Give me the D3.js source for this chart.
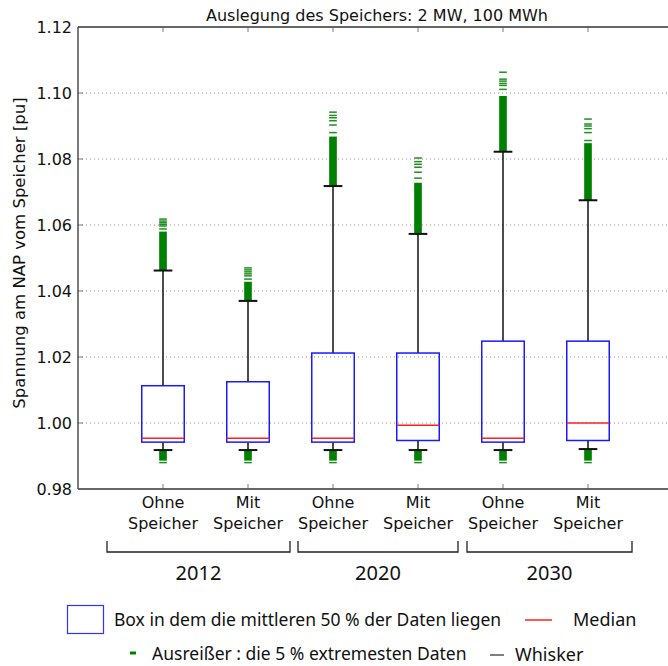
<!DOCTYPE html>
<html lang="de">
<head>
  <meta charset="UTF-8">
  <title>Auslegung des Speichers</title>
  <script src="https://cdn.jsdelivr.net/npm/d3@7"></script>
  <style>
    body { margin: 0; background: #fff; }
    svg { display: block; }
    .tick text { font-family: "DejaVu Sans", sans-serif; }
    .legend text { font-family: "Noto Sans", sans-serif; fill: #111; }
  </style>
</head>
<body>
  <div id="chart"></div>
  <script>
    // data
    const groups = ["2012", "2020", "2030"];
    const variants = ["Ohne Speicher", "Mit Speicher"];
    const q1 = [0.9942, 0.9942, 0.9942, 0.9947, 0.9942, 0.9947];
    const median = [0.9954, 0.9954, 0.9954, 0.9993, 0.9954, 1.0000];
    const q3 = [1.0113, 1.0125, 1.0212, 1.0212, 1.0248, 1.0248];
    const whiskerLow = [0.9918, 0.9918, 0.9918, 0.9918, 0.9918, 0.9921];
    const whiskerHigh = [1.0462, 1.0370, 1.0718, 1.0573, 1.0822, 1.0675];
    // dense outliers merge into a solid bar, top end of that bar
    const denseHighTop = [1.0580, 1.0428, 1.0868, 1.0728, 1.0991, 1.0848];
    const denseLowBottom = [0.9886, 0.9886, 0.9886, 0.9886, 0.9886, 0.9886];
    const sparseHigh = [
      [1.0588, 1.0597, 1.0602, 1.0607, 1.0612, 1.0618],
      [1.0436, 1.0446, 1.0452, 1.0458, 1.0464, 1.0470],
      [1.0880, 1.0903, 1.0916, 1.0925, 1.0932, 1.0942],
      [1.0742, 1.0760, 1.0775, 1.0784, 1.0792, 1.0803],
      [1.1011, 1.1023, 1.1029, 1.1036, 1.1042, 1.1063],
      [1.0856, 1.0880, 1.0892, 1.0900, 1.0906, 1.0921]
    ];
    const sparseLow = [0.9880, 0.9880, 0.9880, 0.9880, 0.9880, 0.9880];
    const yTicks = [0.98, 1.00, 1.02, 1.04, 1.06, 1.08, 1.10, 1.12];

    const width = 668, height = 666;
    const plot = { left: 78, top: 27, right: 673, bottom: 489 };

    const svg = d3.select('#chart').append('svg')
      .attr('width', width)
      .attr('height', height);

    const x = d3.scaleLinear().domain([0, 7]).range([plot.left, plot.right]);
    const y = d3.scaleLinear().domain([0.98, 1.12]).range([plot.bottom, plot.top]);
    const pos = d3.range(1, 7);
    const boxW = x(0.25) - x(0);
    const capW = x(0.11) - x(0);
    const dashW = x(0.045) - x(0);

    // grid
    svg.append('g').selectAll('line')
      .data(yTicks.slice(1, -1))
      .join('line')
      .attr('x1', plot.left).attr('x2', width)
      .attr('y1', d => y(d)).attr('y2', d => y(d))
      .attr('stroke', '#8a8a8a')
      .attr('stroke-width', 1)
      .attr('stroke-dasharray', '1,3');

    // axes
    const yAxis = svg.append('g')
      .attr('transform', `translate(${plot.left},0)`)
      .call(d3.axisLeft(y).tickValues(yTicks).tickFormat(d3.format('.2f')).tickSize(0).tickPadding(6));
    yAxis.select('.domain').remove();
    yAxis.selectAll('text').attr('font-size', 16).attr('fill', '#111');

    const spine = svg.append('g').attr('stroke', '#333').attr('stroke-width', 1.3);
    spine.append('line').attr('x1', plot.left).attr('x2', plot.left).attr('y1', plot.top).attr('y2', plot.bottom);
    spine.append('line').attr('x1', plot.left).attr('x2', width).attr('y1', plot.top).attr('y2', plot.top);
    spine.append('line').attr('x1', plot.left).attr('x2', width).attr('y1', plot.bottom).attr('y2', plot.bottom);

    // inward tick marks
    const tk = svg.append('g').attr('stroke', '#555').attr('stroke-width', 0.8);
    tk.selectAll('.yt').data(yTicks.slice(1, -1)).join('line')
      .attr('x1', plot.left).attr('x2', plot.left + 5)
      .attr('y1', d => y(d)).attr('y2', d => y(d));
    tk.selectAll('.xb').data(pos).join('line')
      .attr('x1', d => x(d)).attr('x2', d => x(d))
      .attr('y1', plot.bottom).attr('y2', plot.bottom - 5);
    tk.selectAll('.xt').data(pos).join('line')
      .attr('x1', d => x(d)).attr('x2', d => x(d))
      .attr('y1', plot.top).attr('y2', plot.top + 5);

    // category labels
    const cat = svg.append('g')
      .attr('font-family', '"DejaVu Sans", sans-serif')
      .attr('font-size', 16).attr('fill', '#111')
      .attr('text-anchor', 'middle');
    pos.forEach((p, i) => {
      const words = variants[i % 2].split(' ');
      cat.append('text').attr('x', x(p)).attr('y', 508).text(words[0]);
      cat.append('text').attr('x', x(p)).attr('y', 529).text(words[1]);
    });

    // boxes
    const g = svg.append('g');
    pos.forEach((p, i) => {
      const cx = x(p);
      // outliers: dense bars
      g.append('rect')
        .attr('x', cx - dashW).attr('width', dashW * 2)
        .attr('y', y(denseHighTop[i])).attr('height', y(whiskerHigh[i]) - y(denseHighTop[i]))
        .attr('fill', '#008000');
      g.append('rect')
        .attr('x', cx - dashW).attr('width', dashW * 2)
        .attr('y', y(whiskerLow[i])).attr('height', y(denseLowBottom[i]) - y(whiskerLow[i]))
        .attr('fill', '#008000');
      g.selectAll(null).data(sparseHigh[i].concat([sparseLow[i]])).join('line')
        .attr('x1', cx - dashW).attr('x2', cx + dashW)
        .attr('y1', d => y(d)).attr('y2', d => y(d))
        .attr('stroke', '#1f8f1f').attr('stroke-width', 1.5);
      // whiskers
      g.append('line').attr('x1', cx).attr('x2', cx)
        .attr('y1', y(q3[i])).attr('y2', y(whiskerHigh[i]))
        .attr('stroke', '#111').attr('stroke-width', 1.5);
      g.append('line').attr('x1', cx).attr('x2', cx)
        .attr('y1', y(q1[i])).attr('y2', y(whiskerLow[i]))
        .attr('stroke', '#111').attr('stroke-width', 1.5);
      [whiskerHigh[i], whiskerLow[i]].forEach(v => {
        g.append('line').attr('x1', cx - capW).attr('x2', cx + capW)
          .attr('y1', y(v)).attr('y2', y(v))
          .attr('stroke', '#111').attr('stroke-width', 2);
      });
      g.append('rect')
        .attr('x', cx - boxW).attr('width', boxW * 2)
        .attr('y', y(q3[i])).attr('height', y(q1[i]) - y(q3[i]))
        .attr('fill', 'none').attr('stroke', '#1a1aff').attr('stroke-width', 1.5);
      g.append('line').attr('x1', cx - boxW).attr('x2', cx + boxW)
        .attr('y1', y(median[i])).attr('y2', y(median[i]))
        .attr('stroke', '#ff2020').attr('stroke-width', 1.5);
    });

    // title and y label
    svg.append('text')
      .attr('x', 377).attr('y', 21)
      .attr('text-anchor', 'middle')
      .attr('font-family', '"DejaVu Sans", sans-serif')
      .attr('font-size', 16).attr('fill', '#111')
      .text('Auslegung des Speichers: 2 MW, 100 MWh');
    svg.append('text')
      .attr('transform', 'translate(25,253) rotate(-90)')
      .attr('text-anchor', 'middle')
      .attr('font-family', '"DejaVu Sans", sans-serif')
      .attr('font-size', 16.5).attr('fill', '#111')
      .text('Spannung am NAP vom Speicher [pu]');

    // group brackets
    const brackets = [[107, 290], [298, 458], [467, 632]];
    const br = svg.append('g').attr('stroke', '#222').attr('stroke-width', 1.3).attr('fill', 'none');
    brackets.forEach(([a, b], i) => {
      br.append('path').attr('d', `M${a},541V552H${b}V541`);
      svg.append('text')
        .attr('x', (a + b) / 2).attr('y', 580)
        .attr('text-anchor', 'middle')
        .attr('font-family', '"Noto Sans", sans-serif')
        .attr('font-size', 20).attr('fill', '#111')
        .text(groups[i]);
    });

    // legend
    const lg = svg.append('g').attr('class', 'legend');
    lg.append('rect').attr('x', 67.5).attr('y', 605.5).attr('width', 36).attr('height', 28)
      .attr('fill', 'none').attr('stroke', '#3333ff').attr('stroke-width', 1.2);
    lg.append('text').attr('x', 114).attr('y', 626).attr('font-size', 17.5)
      .text('Box in dem die mittleren 50 % der Daten liegen');
    lg.append('line').attr('x1', 525).attr('x2', 552).attr('y1', 620).attr('y2', 620)
      .attr('stroke', '#ff2020').attr('stroke-width', 1.5);
    lg.append('text').attr('x', 573).attr('y', 626).attr('font-size', 18).text('Median');
    lg.append('line').attr('x1', 130).attr('x2', 136).attr('y1', 653).attr('y2', 653)
      .attr('stroke', '#008000').attr('stroke-width', 3);
    lg.append('text').attr('x', 152).attr('y', 660).attr('font-size', 17.5)
      .text('Ausreißer : die 5 % extremesten Daten');
    lg.append('line').attr('x1', 490).attr('x2', 504).attr('y1', 655).attr('y2', 655)
      .attr('stroke', '#555').attr('stroke-width', 1.5);
    lg.append('text').attr('x', 515).attr('y', 661).attr('font-size', 18).text('Whisker');
  </script>
</body>
</html>
